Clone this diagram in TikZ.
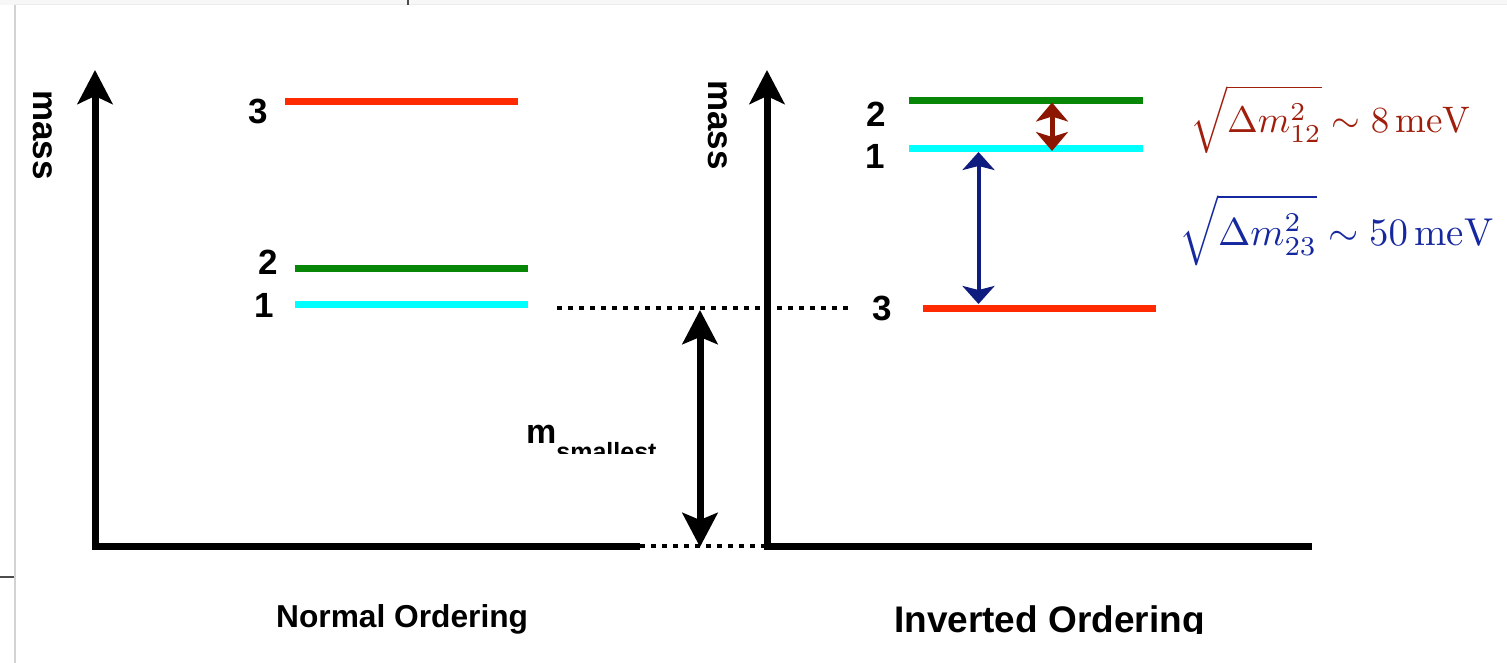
\documentclass[tikz,border=0pt]{standalone}
\usepackage{fontspec}
\usepackage{graphicx}
\usetikzlibrary{arrows.meta}
\newfontfamily\hv{Liberation Sans}
\definecolor{lvred}{RGB}{255,42,0}
\definecolor{lvgreen}{RGB}{8,134,8}
\definecolor{lvcyan}{RGB}{0,255,255}
\definecolor{arrred}{RGB}{140,22,0}
\definecolor{arrblue}{RGB}{14,28,128}
\definecolor{fred}{RGB}{160,30,12}
\definecolor{fblue}{RGB}{22,40,160}
\begin{document}
\begin{tikzpicture}[x=1pt,y=-1pt,
  level/.style={line width=7pt},
  axisline/.style={line width=7pt,{Stealth[length=34pt,width=35pt,inset=8pt]}-},
  dotline/.style={line width=4.5pt,dash pattern=on 5pt off 6pt},
  bigarrow/.style={line width=7pt,{Stealth[length=34pt,width=35pt,inset=7pt]}-{Stealth[length=34pt,width=35pt,inset=7pt]}},
  lbl/.style={font={\hv\bfseries\fontsize{35}{35}\selectfont}, inner sep=0pt},
  masslbl/.style={font={\hv\bfseries\fontsize{35}{35}\selectfont}, inner sep=0pt, rotate=-90},
  title/.style={inner sep=0pt, anchor=base west}]
\useasboundingbox (0,0) rectangle (1507,663);
\fill[white] (0,0) rectangle (1507,663);
\fill[gray!6] (0,0) rectangle (1507,5);
\draw[gray!35, line width=2pt] (15,5) -- (15,663);
\draw[gray!15, line width=1pt] (15,5) -- (1507,5);
\draw[black!70, line width=1.2pt] (0,577) -- (14,577);
\draw[black!70, line width=2pt] (408,0) -- (408,5);

% axes
\coordinate (Ltop) at (95,70); \coordinate (Lorig) at (95,546); \coordinate (Lend) at (640,546);
\coordinate (Rtop) at (767,70); \coordinate (Rorig) at (767,546); \coordinate (Rend) at (1312,546);
\draw[dotline] (Lend) -- (Rorig);
\draw[axisline] (Ltop) -- (Lorig) -- (Lend);
\draw[axisline] (Rtop) -- (Rorig) -- (Rend);

\node[masslbl] (massL) at (43,135) {mass};
\node[masslbl] (massR) at (718,125) {mass};

% normal ordering levels
\draw[level, lvred] (285,102) -- (518,102);
\draw[level, lvgreen] (295,268) -- (528,268);
\draw[level, lvcyan] (295,304) -- (528,304);
\node[lbl] (nl3) at (258,111) {3};
\node[lbl] (nl2) at (268,262) {2};
\node[lbl] (nl1) at (264,305) {1};

% inverted ordering levels
\coordinate (i2) at (1052,100.5); \coordinate (i1) at (1052,149);
\coordinate (i1b) at (978.5,149); \coordinate (i3) at (978.5,308);
\draw[level, lvgreen] (909,100.5) -- (1143,100.5);
\draw[level, lvcyan] (909,149) -- (1143,149);
\draw[level, lvred] (923,308) -- (1156,308);
\node[lbl] (il2) at (876,114) {2};
\node[lbl] (il1) at (875,156) {1};
\node[lbl] (il3) at (882,308) {3};

% m smallest
\coordinate (ms1) at (557,308); \coordinate (ms2) at (848,308);
\draw[dotline] (ms1) -- (ms2);
\coordinate (mtop) at (700,310); \coordinate (mbot) at (700,547);
\draw[bigarrow] (mtop) -- (mbot);
\begin{scope}
\clip (500,380) rectangle (690,453);
\node[title, font={\hv\bfseries\fontsize{34}{34}\selectfont}] (msm) at (526,443) {m\raisebox{-17pt}{\fontsize{25}{25}\selectfont smallest}};
\end{scope}

% splitting arrows
\draw[arrred, line width=5pt, {Stealth[length=19pt,width=32pt,inset=5pt]}-{Stealth[length=19pt,width=32pt,inset=5pt]}] ([yshift=-2pt]i2) -- ([yshift=-2pt]i1);
\draw[arrblue, line width=4pt, {Stealth[length=18pt,width=32pt,inset=4pt]}-{Stealth[length=18pt,width=32pt,inset=4pt]}] ([yshift=-3pt]i1b) -- ([yshift=4pt]i3);

\node[title, text=fred] (f12) at (1190,133) {\resizebox{280pt}{!}{$\displaystyle\sqrt{\Delta m^2_{12}} \sim 8\,\mathrm{meV}$}};
\node[title, text=fblue] (f23) at (1179,245) {\resizebox{314pt}{!}{$\displaystyle\sqrt{\Delta m^2_{23}} \sim 50\,\mathrm{meV}$}};

% titles
\node[title, font={\hv\bfseries\fontsize{31.7}{34}\selectfont}] (normal) at (276,627) {Normal Ordering};
\begin{scope}
\clip (880,580) rectangle (1240,633);
\node[title, font={\hv\bfseries\fontsize{37}{40}\selectfont}] (inverted) at (894,632) {Inverted Ordering};
\end{scope}
\end{tikzpicture}
\end{document}
